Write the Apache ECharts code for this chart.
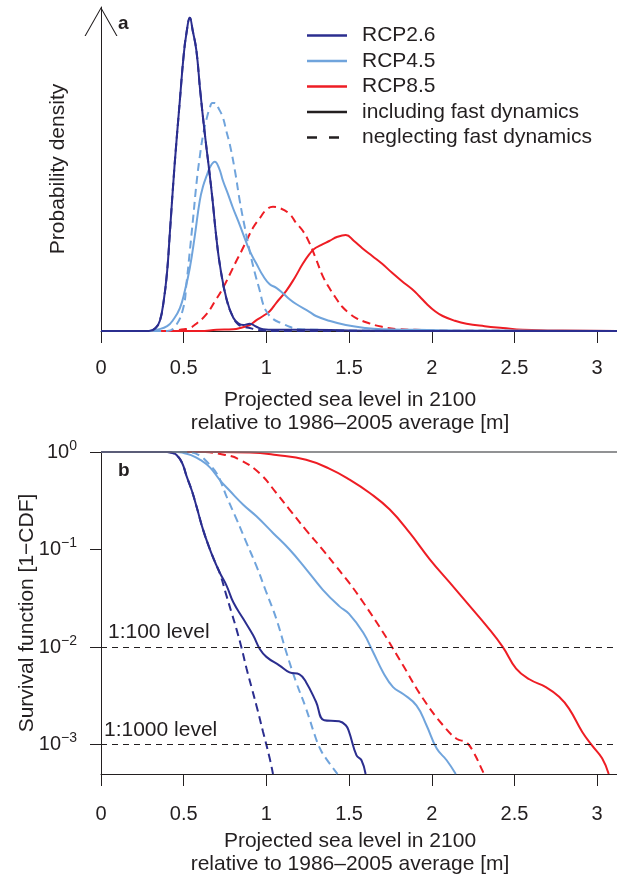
<!DOCTYPE html>
<html><head><meta charset="utf-8">
<script src="https://cdn.jsdelivr.net/npm/echarts@6/dist/echarts.min.js"></script>
<style>html,body{margin:0;padding:0;background:#fff}#c{width:617px;height:877px}</style>
</head><body><div id="c"></div>
<script>
// ---------- data ----------
const xTicks = [0, 0.5, 1, 1.5, 2, 2.5, 3];
const yDecades = [-3, -2, -1, 0];           // 10^-3 ... 10^0
const levels = [0.01, 0.001];
const levelLabels = ['1:100 level', '1:1000 level'];
const scenarios = ['RCP2.6', 'RCP4.5', 'RCP8.5'];
const dynLabels = ['including fast dynamics', 'neglecting fast dynamics'];

// Panel a: probability density [sea level m, density]
const pdfFast26 = [[0,0],[0.29,0],[0.33,0.05],[0.356,0.17],[0.38,0.52],[0.40,1.0],[0.416,1.62],[0.444,2.73],[0.477,3.85],[0.50,4.6],[0.517,4.97],[0.537,5.22],[0.555,5.0],[0.577,4.67],[0.60,4.0],[0.628,3.28],[0.652,2.73],[0.675,2.17],[0.695,1.62],[0.72,1.08],[0.76,0.52],[0.80,0.22],[0.83,0.13],[0.86,0.1],[0.90,0.12],[0.94,0.07],[0.98,0.03],[1.05,0.02],[1.25,0.02],[1.5,0.01],[2.0,0],[3.12,0]];
const pdfSlow26 = [[0,0],[0.29,0],[0.33,0.05],[0.356,0.17],[0.38,0.52],[0.40,1.0],[0.416,1.62],[0.444,2.73],[0.477,3.85],[0.50,4.6],[0.517,4.97],[0.537,5.22],[0.555,5.0],[0.577,4.67],[0.60,4.0],[0.628,3.28],[0.652,2.73],[0.675,2.17],[0.695,1.62],[0.72,1.08],[0.76,0.52],[0.80,0.22],[0.83,0.11],[0.86,0.07],[0.90,0.05],[0.94,0.02],[1.0,0.005],[1.05,0],[3.12,0]];
const pdfFast45 = [[0,0],[0.30,0],[0.336,0.02],[0.40,0.08],[0.44,0.2],[0.477,0.38],[0.507,0.67],[0.537,1.05],[0.567,1.58],[0.597,2.17],[0.618,2.42],[0.638,2.58],[0.663,2.75],[0.688,2.82],[0.713,2.72],[0.738,2.5],[0.768,2.28],[0.798,2.05],[0.83,1.83],[0.859,1.62],[0.90,1.33],[0.94,1.12],[0.98,0.92],[1.02,0.78],[1.06,0.72],[1.10,0.63],[1.14,0.53],[1.18,0.45],[1.26,0.32],[1.30,0.25],[1.38,0.17],[1.48,0.1],[1.60,0.05],[1.70,0.03],[1.90,0.02],[2.2,0.01],[3.12,0]];
const pdfSlow45 = [[0,0],[0.40,0],[0.45,0.08],[0.497,0.38],[0.517,0.8],[0.537,1.33],[0.557,1.88],[0.577,2.45],[0.598,2.92],[0.618,3.28],[0.638,3.53],[0.658,3.72],[0.673,3.8],[0.688,3.8],[0.713,3.7],[0.738,3.55],[0.758,3.33],[0.778,3.12],[0.81,2.67],[0.839,2.17],[0.87,1.72],[0.899,1.33],[0.93,0.97],[0.96,0.67],[0.98,0.45],[1.00,0.33],[1.04,0.2],[1.10,0.12],[1.14,0.07],[1.2,0.03],[1.3,0.02],[1.5,0.01],[3.12,0]];
const pdfFast85 = [[0,0],[0.6,0],[0.70,0.02],[0.80,0.03],[0.84,0.05],[0.90,0.1],[0.94,0.18],[0.98,0.25],[1.02,0.33],[1.06,0.47],[1.12,0.67],[1.17,0.88],[1.22,1.12],[1.26,1.28],[1.29,1.37],[1.33,1.43],[1.38,1.5],[1.43,1.57],[1.48,1.6],[1.53,1.5],[1.58,1.38],[1.64,1.25],[1.70,1.12],[1.76,0.97],[1.82,0.83],[1.88,0.7],[1.925,0.58],[1.97,0.45],[2.02,0.33],[2.066,0.25],[2.14,0.17],[2.21,0.12],[2.32,0.08],[2.43,0.05],[2.55,0.02],[2.7,0.01],[3.12,0]];
const pdfSlow85 = [[0,0],[0.40,0],[0.50,0.03],[0.537,0.05],[0.58,0.13],[0.638,0.28],[0.69,0.5],[0.738,0.72],[0.78,0.95],[0.819,1.17],[0.849,1.33],[0.879,1.5],[0.919,1.72],[0.96,1.88],[1.00,2.02],[1.04,2.07],[1.08,2.05],[1.14,1.95],[1.18,1.8],[1.22,1.67],[1.26,1.47],[1.30,1.2],[1.34,0.92],[1.38,0.72],[1.42,0.55],[1.46,0.4],[1.50,0.3],[1.54,0.22],[1.62,0.13],[1.70,0.07],[1.80,0.03],[1.90,0.02],[2.1,0.005],[3.12,0]];

// Panel b: survival function 1-CDF [sea level m, probability]
const sfFast26 = [[0,1],[0.40,1],[0.43,0.98],[0.457,0.933],[0.49,0.776],[0.518,0.562],[0.55,0.398],[0.578,0.275],[0.618,0.158],[0.659,0.1],[0.69,0.0741],[0.719,0.0575],[0.759,0.0427],[0.80,0.0288],[0.86,0.0195],[0.92,0.0132],[0.96,0.00955],[1.0,0.00794],[1.08,0.00646],[1.14,0.0055],[1.20,0.00525],[1.24,0.00437],[1.30,0.00275],[1.35,0.00178],[1.44,0.00174],[1.48,0.00158],[1.50,0.00135],[1.545,0.000776],[1.575,0.000692],[1.60,0.0005]];
const sfSlow26 = [[0,1],[0.40,1],[0.43,0.98],[0.457,0.933],[0.49,0.776],[0.518,0.562],[0.55,0.398],[0.578,0.275],[0.618,0.158],[0.659,0.1],[0.69,0.0741],[0.72,0.0562],[0.76,0.0331],[0.79,0.0224],[0.82,0.0151],[0.85,0.00977],[0.88,0.00603],[0.91,0.00389],[0.94,0.00251],[0.98,0.00135],[1.02,0.000724],[1.04,0.0005]];
const sfFast45 = [[0,1],[0.46,1],[0.50,0.977],[0.54,0.933],[0.60,0.832],[0.66,0.692],[0.72,0.513],[0.78,0.398],[0.86,0.288],[0.94,0.219],[1.04,0.148],[1.14,0.1],[1.24,0.0631],[1.34,0.0389],[1.44,0.0263],[1.50,0.0219],[1.585,0.0141],[1.645,0.00891],[1.706,0.0055],[1.766,0.00389],[1.827,0.00331],[1.908,0.00251],[1.968,0.00158],[2.03,0.000912],[2.09,0.000692],[2.145,0.0005]];
const sfSlow45 = [[0,1],[0.50,1],[0.55,0.99],[0.60,0.91],[0.64,0.794],[0.70,0.603],[0.73,0.468],[0.76,0.347],[0.82,0.204],[0.88,0.117],[0.94,0.0676],[1.00,0.0363],[1.06,0.0195],[1.12,0.00891],[1.18,0.00437],[1.24,0.00234],[1.30,0.00115],[1.33,0.00087],[1.36,0.000724],[1.42,0.000525],[1.43,0.0005]];
const sfFast85 = [[0,1],[0.70,1],[0.90,0.99],[1.06,0.933],[1.24,0.832],[1.38,0.676],[1.50,0.525],[1.625,0.38],[1.746,0.257],[1.867,0.148],[1.988,0.0794],[2.109,0.0457],[2.23,0.0263],[2.33,0.0166],[2.43,0.01],[2.51,0.00603],[2.59,0.00468],[2.69,0.00389],[2.77,0.00309],[2.83,0.00234],[2.91,0.00135],[2.97,0.000977],[3.03,0.000724],[3.07,0.0005]];
const sfSlow85 = [[0,1],[0.60,1],[0.75,0.933],[0.84,0.832],[0.96,0.603],[1.06,0.38],[1.14,0.257],[1.24,0.158],[1.34,0.1],[1.42,0.0676],[1.50,0.0457],[1.585,0.0288],[1.706,0.0141],[1.827,0.00646],[1.948,0.00295],[2.068,0.00158],[2.15,0.00115],[2.21,0.00105],[2.25,0.000851],[2.31,0.000525],[2.315,0.0005]];

// ---------- styling ----------
const colors = {'RCP2.6': '#2b2e8f', 'RCP4.5': '#70a4dc', 'RCP8.5': '#ee1d24'};
const ink = '#231f20';
const FONT = '"Liberation Sans", Arial, Helvetica, sans-serif';
const dash = [8, 5];
const SF_MIN = 0.0005;

function lineSeries(name, data, dashed, grid, toLog) {
  return {
    type: 'line', name: name,
    xAxisIndex: grid, yAxisIndex: grid,
    data: toLog ? data.map(p => [p[0], Math.log10(p[1])]) : data,
    symbol: 'none', smooth: 0.45,
    color: colors[name],
    lineStyle: {color: colors[name], width: 2, type: dashed ? dash : 'solid'},
    emphasis: {disabled: true}, silent: true, animation: false
  };
}

const series = [
  lineSeries('RCP8.5', pdfSlow85, true, 0, false),
  lineSeries('RCP8.5', pdfFast85, false, 0, false),
  lineSeries('RCP4.5', pdfSlow45, true, 0, false),
  lineSeries('RCP4.5', pdfFast45, false, 0, false),
  lineSeries('RCP2.6', pdfSlow26, true, 0, false),
  lineSeries('RCP2.6', pdfFast26, false, 0, false),
  lineSeries('RCP8.5', sfSlow85, true, 1, true),
  lineSeries('RCP8.5', sfFast85, false, 1, true),
  lineSeries('RCP4.5', sfSlow45, true, 1, true),
  lineSeries('RCP4.5', sfFast45, false, 1, true),
  lineSeries('RCP2.6', sfSlow26, true, 1, true),
  lineSeries('RCP2.6', sfFast26, false, 1, true),
  {type: 'line', name: dynLabels[0], data: [], color: ink, xAxisIndex: 0, yAxisIndex: 0, symbol: 'none', lineStyle: {color: ink, width: 2}},
  {type: 'line', name: dynLabels[1], data: [], color: ink, xAxisIndex: 0, yAxisIndex: 0, symbol: 'none', lineStyle: {color: ink, width: 2, type: dash}},
  {
    type: 'line', name: 'levels', data: [], xAxisIndex: 1, yAxisIndex: 1, symbol: 'none', silent: true, animation: false,
    markLine: {
      silent: true, symbol: ['none', 'none'], animation: false,
      data: [
        {yAxis: 0, lineStyle: {color: '#6d6e70', type: 'solid', width: 1.5}, label: {show: false}},
        {yAxis: Math.log10(levels[0]), lineStyle: {color: ink, type: [6, 5], width: 1.2},
         label: {show: true, formatter: levelLabels[0], position: 'insideStartTop', distance: [7, 4], color: ink, fontSize: 21, fontFamily: FONT}},
        {yAxis: Math.log10(levels[1]), lineStyle: {color: ink, type: [6, 5], width: 1.2},
         label: {show: true, formatter: levelLabels[1], position: 'insideStartTop', distance: [3, 4], color: ink, fontSize: 21, fontFamily: FONT}}
      ]
    }
  }
];

const solidIcon = 'path://M0,0M40,14M0,5.8h40v2.4h-40z';
const dashIcon = 'path://M0,0M40,14M0,5.8h10v2.4h-10zM22,5.8h10v2.4h-10z';

const xLabelStyle = {fontSize: 20, color: ink, fontFamily: FONT, margin: 27, customValues: xTicks};
const xName = 'Projected sea level in 2100\nrelative to 1986\u20132005 average [m]';

const option = {
  animation: false,
  backgroundColor: '#fff',
  textStyle: {fontFamily: FONT},
  title: [
    {text: 'a', left: 113, top: 9, textStyle: {fontSize: 19, fontWeight: 'bold', color: ink, fontFamily: FONT}},
    {text: 'b', left: 113, top: 456, textStyle: {fontSize: 19, fontWeight: 'bold', color: ink, fontFamily: FONT}}
  ],
  legend: {
    left: 302, top: 20, orient: 'vertical', itemWidth: 40, itemHeight: 14, itemGap: 4.5,
    selectedMode: false,
    textStyle: {fontSize: 21, lineHeight: 21, color: ink, fontFamily: FONT, padding: [0, 0, 0, 10]},
    data: [
      {name: scenarios[0], icon: solidIcon},
      {name: scenarios[1], icon: solidIcon},
      {name: scenarios[2], icon: solidIcon},
      {name: dynLabels[0], icon: solidIcon},
      {name: dynLabels[1], icon: dashIcon}
    ]
  },
  grid: [
    {left: 101, right: 0, top: 7, height: 324},
    {left: 101, right: 0, top: 452, height: 323}
  ],
  xAxis: [
    {
      type: 'value', gridIndex: 0, min: 0, max: 3.12,
      axisLine: {show: true, onZero: false, lineStyle: {color: ink, width: 1}},
      axisTick: {show: true, length: 12, customValues: xTicks, lineStyle: {color: ink, width: 1}},
      axisLabel: xLabelStyle, splitLine: {show: false},
      name: xName, nameLocation: 'middle', nameGap: 58, nameMoveOverlap: false,
      nameTextStyle: {fontSize: 21, lineHeight: 23, color: ink, fontFamily: FONT, padding: [0, 18, 0, 0]}
    },
    {
      type: 'value', gridIndex: 1, min: 0, max: 3.12,
      axisLine: {show: true, onZero: false, lineStyle: {color: ink, width: 1}},
      axisTick: {show: true, length: 12, customValues: xTicks, lineStyle: {color: ink, width: 1}},
      axisLabel: Object.assign({}, xLabelStyle, {margin: 30}), splitLine: {show: false},
      name: xName, nameLocation: 'middle', nameGap: 56, nameMoveOverlap: false,
      nameTextStyle: {fontSize: 21, lineHeight: 23, color: ink, fontFamily: FONT, padding: [0, 18, 0, 0]}
    }
  ],
  yAxis: [
    {
      type: 'value', gridIndex: 0, min: 0, max: 5.4,
      axisLine: {show: true, onZero: false, lineStyle: {color: ink, width: 1},
        symbol: ['none', 'path://M0,29L16.5,0L33,29L31.8,29L16.5,2.1L1.2,29Z'],
        symbolSize: [33, 29], symbolOffset: [0, -14.5]},
      axisTick: {show: false}, axisLabel: {show: false}, splitLine: {show: false},
      name: 'Probability density', nameLocation: 'middle', nameGap: 32, nameMoveOverlap: false,
      nameTextStyle: {fontSize: 21, color: ink, fontFamily: FONT}
    },
    {
      type: 'value', gridIndex: 1, min: Math.log10(SF_MIN), max: 0,
      axisLine: {show: true, onZero: false, lineStyle: {color: ink, width: 1}},
      axisTick: {show: true, length: 11, customValues: yDecades, lineStyle: {color: ink, width: 1}},
      axisLabel: {
        customValues: yDecades, margin: 24, color: ink, fontFamily: FONT,
        formatter: v => '{b|10}{s|' + (v === 0 ? '0' : '\u2212' + Math.abs(v)) + '}',
        rich: {
          b: {fontSize: 20, lineHeight: 26, color: ink, fontFamily: FONT},
          s: {fontSize: 14, lineHeight: 14, verticalAlign: 'top', color: ink, fontFamily: FONT}
        }
      },
      splitLine: {show: false},
      name: 'Survival function [1\u2212CDF]', nameLocation: 'middle', nameGap: 63, nameMoveOverlap: false,
      nameTextStyle: {fontSize: 21, color: ink, fontFamily: FONT}
    }
  ],
  series: series
};

const chart = echarts.init(document.getElementById('c'), null, {renderer: 'canvas'});
chart.setOption(option);
</script>
</body></html>
